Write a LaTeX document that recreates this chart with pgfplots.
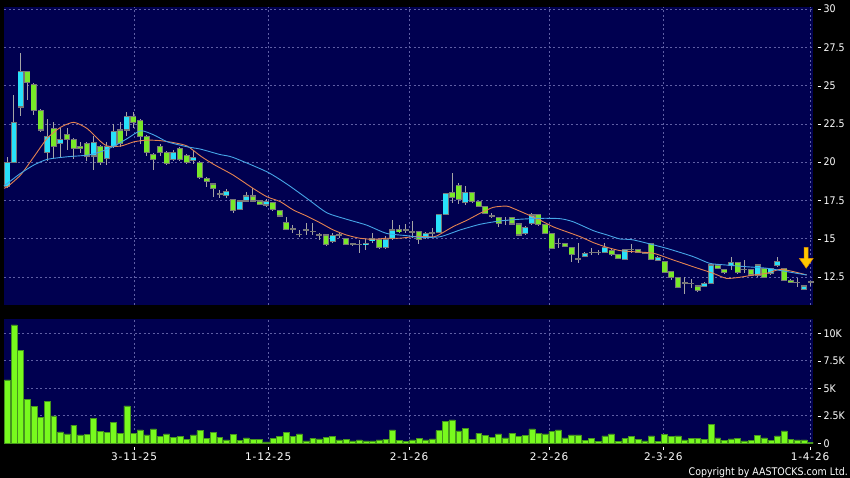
\documentclass[border=0pt]{standalone}
\usepackage{pgfplots}
\pgfplotsset{compat=1.18}
\usepackage{pgfplotstable}
\usepackage{fontspec}
\setmainfont{DejaVu Sans}
\newfontfamily\labelfont[FakeStretch=0.9]{DejaVu Sans}
\newfontfamily\datefont[LetterSpace=8]{DejaVu Sans}

\definecolor{navyc}{RGB}{0,0,80}
\definecolor{gridc}{RGB}{95,95,165}
\definecolor{upc}{RGB}{40,225,250}
\definecolor{downc}{RGB}{120,232,40}
\definecolor{bordc}{RGB}{120,120,120}
\definecolor{wickc}{RGB}{165,165,165}
\definecolor{volc}{RGB}{120,250,30}
\definecolor{voledge}{RGB}{70,150,30}
\definecolor{maone}{RGB}{228,130,80}
\definecolor{matwo}{RGB}{70,165,230}
\definecolor{arrowc}{RGB}{255,200,0}
\definecolor{arrowedge}{RGB}{225,140,0}

% small tick dash in front of the right-hand labels
\newcommand{\tk}{\rule[3pt]{3pt}{0.8pt}\hspace{3pt}}
\newcommand{\dt}[1]{\rule{0.8pt}{2.8pt}\\[-1.5pt]#1}

% daily candles: index, open, high, low, close
\pgfplotstableread{
i o h l c
0 18.4 20.35 18.3 20.0
1 20.0 24.4 19.95 22.6
2 23.6 27.1 23.0 25.9
3 25.9 25.95 24.05 25.2
4 25.1 25.2 23.1 23.4
5 23.4 23.45 22.0 22.1
6 20.6 22.8 20.1 21.7
7 22.2 22.6 20.25 21.0
8 21.2 22.2 20.35 21.5
9 21.8 22.2 20.8 21.45
10 21.5 21.6 20.2 20.9
11 21.05 21.3 20.6 20.9
12 21.2 21.3 20.1 20.4
13 20.4 21.7 19.5 21.3
14 21.0 21.1 19.8 20.0
15 20.25 21.3 19.8 21.0
16 21.0 22.5 20.9 22.0
17 22.1 22.6 21.0 21.2
18 22.1 23.3 21.7 23.0
19 23.0 23.3 22.2 22.6
20 22.7 22.8 21.2 21.7
21 21.7 21.8 20.4 20.6
22 20.5 20.6 19.5 20.2
23 21.0 21.2 20.4 20.6
24 20.6 20.7 19.8 19.9
25 20.2 20.8 20.1 20.6
26 20.9 21.0 20.1 20.2
27 20.45 20.5 19.9 20.0
28 20.1 20.7 19.9 20.3
29 20.0 20.05 18.9 19.0
30 18.95 19.0 18.35 18.72
31 18.57 18.6 17.74 18.29
32 17.92 18.2 17.65 17.92
33 17.85 18.25 17.65 18.07
34 17.53 17.55 16.7 16.87
35 16.92 17.5 16.9 17.46
36 17.46 18.07 17.42 17.79
37 17.79 18.3 17.42 17.46
38 17.46 17.5 17.2 17.26
39 17.2 17.6 17.1 17.42
40 17.35 17.4 16.8 16.92
41 16.87 16.9 16.45 16.48
42 16.04 16.4 15.6 15.61
43 15.65 15.9 15.4 15.65
44 15.3 15.6 15.1 15.3
45 15.57 16.0 15.25 15.57
46 15.5 16.0 15.24 15.5
47 15.24 15.35 14.92 15.24
48 15.24 15.3 14.55 14.65
49 14.8 15.35 14.7 15.18
50 15.24 15.39 15.02 15.24
51 15.02 15.05 14.6 14.65
52 14.6 14.7 14.5 14.66
53 14.63 14.9 14.05 14.63
54 14.6 14.96 14.26 14.7
55 14.87 15.35 14.7 15.02
56 14.96 15.0 14.3 14.44
57 14.44 15.18 14.31 14.96
58 15.02 16.22 14.92 15.57
59 15.6 15.9 15.35 15.45
60 15.57 15.96 15.35 15.57
61 15.46 16.17 15.02 15.46
62 15.46 15.5 14.65 14.92
63 15.09 15.45 15.0 15.35
64 15.39 15.68 15.09 15.39
65 15.39 16.6 15.35 16.55
66 16.61 18.0 16.55 17.96
67 18.0 19.27 17.35 17.7
68 18.5 18.62 17.26 17.53
69 17.35 18.44 17.2 18.0
70 18.0 18.05 17.35 17.41
71 17.41 17.45 17.05 17.09
72 17.09 17.1 16.6 16.66
73 16.48 16.66 16.33 16.48
74 16.37 16.4 15.78 16.0
75 16.2 16.44 15.9 16.2
76 16.37 16.4 15.9 15.96
77 15.96 16.0 15.2 15.24
78 15.31 15.8 15.25 15.74
79 16.0 16.66 15.9 16.55
80 16.59 16.6 15.85 15.9
81 15.9 15.92 15.3 15.35
82 15.31 15.35 14.3 14.37
83 14.7 15.0 14.4 14.7
84 14.7 14.75 14.45 14.52
85 14.44 14.46 13.5 13.94
86 13.7 14.7 13.4 13.7
87 13.83 14.1 13.8 14.05
88 14.1 14.37 13.94 14.1
89 14.1 14.26 13.94 14.1
90 14.09 14.74 14.05 14.41
91 14.24 14.3 13.9 13.94
92 13.94 13.95 13.65 13.7
93 13.66 14.35 13.6 14.3
94 14.3 14.65 14.05 14.3
95 14.3 14.32 14.05 14.1
96 14.05 14.15 14.0 14.1
97 14.7 14.75 13.6 13.66
98 13.61 13.85 13.55 13.79
99 13.5 13.52 12.75 12.78
100 12.85 12.88 12.3 12.48
101 12.48 12.5 11.75 11.83
102 12.13 12.48 11.39 12.13
103 12.09 12.35 11.76 12.09
104 11.91 11.93 11.5 11.6
105 11.91 12.15 11.85 12.09
106 12.09 13.35 12.05 13.28
107 13.28 13.35 13.0 13.07
108 13.0 13.05 12.7 12.78
109 13.24 13.79 12.96 13.46
110 13.46 13.5 12.7 12.78
111 13.0 13.61 12.74 13.0
112 13.0 13.05 12.55 12.63
113 12.57 13.35 12.5 13.28
114 13.07 13.1 12.45 12.48
115 12.7 13.1 12.65 13.07
116 13.22 13.79 13.17 13.5
117 13.07 13.1 12.25 12.3
118 12.3 12.35 12.1 12.13
119 12.15 12.41 11.87 12.15
120 11.7 12.0 11.65 11.91
121 12.2 12.22 11.9 12.2
}\candles

% daily volume, thousands
\pgfplotstableread{
i v
0 5.76
1 10.76
2 8.48
3 4.0
4 3.33
5 2.36
6 3.82
7 2.48
8 1.03
9 0.85
10 1.64
11 0.76
12 0.82
13 2.27
14 1.06
15 0.97
16 1.91
17 0.91
18 3.39
19 0.91
20 1.21
21 0.76
22 1.3
23 0.6
24 0.85
25 0.55
26 0.64
27 0.36
28 0.76
29 1.15
30 0.42
31 1.0
32 0.52
33 0.3
34 0.79
35 0.27
36 0.48
37 0.33
38 0.36
39 0.12
40 0.42
41 0.6
42 1.0
43 0.6
44 0.85
45 0.21
46 0.45
47 0.39
48 0.52
49 0.6
50 0.3
51 0.36
52 0.21
53 0.3
54 0.21
55 0.21
56 0.3
57 0.36
58 1.21
59 0.24
60 0.15
61 0.3
62 0.45
63 0.3
64 0.39
65 1.15
66 1.97
67 2.12
68 1.12
69 1.36
70 0.36
71 0.91
72 0.73
73 0.55
74 0.85
75 0.48
76 0.91
77 0.6
78 0.73
79 1.3
80 0.91
81 0.85
82 1.09
83 1.21
84 0.48
85 0.76
86 0.76
87 0.24
88 0.42
89 0.15
90 0.67
91 0.85
92 0.15
93 0.42
94 0.6
95 0.36
96 0.21
97 0.67
98 0.15
99 0.82
100 0.6
101 0.67
102 0.3
103 0.42
104 0.42
105 0.36
106 1.73
107 0.48
108 0.27
109 0.39
110 0.42
111 0.21
112 0.24
113 0.7
114 0.48
115 0.27
116 0.67
117 1.12
118 0.36
119 0.3
120 0.3
121 0.09
}\volume

\begin{document}
\begin{tikzpicture}
\useasboundingbox (0pt,0pt) rectangle (850pt,478pt);
\fill[black] (0pt,0pt) rectangle (850pt,478pt);

\pgfplotsset{
  panel/.style={
    anchor=south west, scale only axis, width=809pt,
    xmin=-0.5, xmax=121.35,
    axis background/.style={fill=navyc},
    axis line style={draw=none},
    major tick length=0pt,
    xmajorgrids, ymajorgrids,
    grid style={gridc, line width=0.6pt, dash pattern=on 2pt off 2.5pt},
    xtick={19.1,39.3,60.5,81.6,98.8,120.9},
    yticklabel pos=right,
    tick label style={font=\labelfont\fontsize{10.5}{12}\selectfont, text=white},
    yticklabel style={anchor=west, inner sep=0pt, xshift=4.5pt},
  },
  body/.style={draw=none, mark=none, forget plot,
    error bars/y dir=both, error bars/y explicit, error bars/error mark=none},
}

% price panel
\begin{axis}[panel, at={(4pt,173pt)}, height=297.5pt,
  ymin=10.67, ymax=30.1, clip=false,
  ytick={12.5,15,17.5,20,22.5,25,27.5,30},
  yticklabels={{\tk12.5},{\tk15},{\tk17.5},{\tk20},{\tk22.5},{\tk25},{\tk27.5},{\tk30}},
  xticklabels={\relax,\relax,\relax,\relax,\relax,\relax}]

% wicks
\addplot[body, error bars/error bar style={draw=wickc, line width=1pt}]
  table[x=i, y expr={(\thisrow{h}+\thisrow{l})/2},
        y error expr={(\thisrow{h}-\thisrow{l})/2}] {\candles};
% body outline (also the dash of a doji)
\addplot[body, error bars/error bar style={draw=bordc, line width=6pt}]
  table[x=i, y expr={(\thisrow{o}+\thisrow{c})/2},
        y error expr={abs(\thisrow{c}-\thisrow{o})/2+0.035}] {\candles};
% rising days
\addplot[body, restrict expr to domain={\thisrow{c}-\thisrow{o}}{0.001:100},
  error bars/error bar style={draw=upc, line width=4.8pt}]
  table[x=i, y expr={(\thisrow{o}+\thisrow{c})/2},
        y error expr={max(abs(\thisrow{c}-\thisrow{o})/2-0.035,0)}] {\candles};
% falling days
\addplot[body, restrict expr to domain={\thisrow{o}-\thisrow{c}}{0.001:100},
  error bars/error bar style={draw=downc, line width=4.8pt}]
  table[x=i, y expr={(\thisrow{o}+\thisrow{c})/2},
        y error expr={max(abs(\thisrow{c}-\thisrow{o})/2-0.035,0)}] {\candles};

% short moving average
\addplot[maone, line width=0.9pt, mark=none, smooth, tension=0.4] coordinates {
(-0.5,18.3) (0,18.39) (2,19.16) (4,20.35) (6,21.55) (8,22.27) (10,22.6)
(12,22.2) (14.1,21.33) (15.1,21.05) (17.1,21.05) (19.1,21.33) (21.1,21.44)
(23.1,21.4) (25.1,21.27) (27.1,21.05) (29.1,20.4) (31.1,19.85) (34,19.16)
(37,18.29) (39.1,17.74) (41.1,17.42) (43.1,16.87) (45.1,16.48) (47.1,16.04)
(49.1,15.57) (51.1,15.24) (53.1,15.03) (55.1,14.96) (57.1,15.03) (59.1,15.03)
(61.6,15.15) (64.2,15.12) (65.2,15.3) (67.2,15.8) (69.2,16.2) (71.2,16.66)
(73.2,17.05) (75.2,17.13) (76.2,16.98) (78.2,16.61) (80.2,16.22) (82.2,15.78)
(84.2,15.46) (86.3,15.13) (88.3,14.74) (90.3,14.44) (92.3,14.22) (94.3,14.15)
(97.3,14.05) (100.3,13.61) (103.3,13.17) (106.3,12.74) (108.3,12.41)
(110.3,12.48) (112.4,12.63) (114.4,12.74) (116.4,13.0) (118.4,12.85) (120.4,12.63)
};
% long moving average
\addplot[matwo, line width=0.9pt, mark=none, smooth, tension=0.4] coordinates {
(-0.5,18.45) (0,18.61) (2,19.27) (4,19.81) (6,20.18) (9,20.35) (12.1,20.46)
(14.1,20.68) (16.1,21.05) (18.1,21.55) (20.1,22.05) (22.1,21.77) (24.1,21.33)
(27.1,21.0) (29.1,20.85) (32,20.5) (34,20.31) (39.1,19.37) (42.1,18.57)
(45.1,17.64) (48.1,16.7) (51.1,16.27) (54.1,15.89) (57.1,15.35) (60.1,15.2)
(62.2,15.09) (65.2,15.13) (68.2,15.57) (71.2,15.94) (74.2,16.16) (77.2,16.27)
(80.2,16.33) (83.2,16.31) (85.2,16.11) (88.3,15.52) (90.3,15.25) (92.3,14.98)
(94.3,14.92) (99.3,14.37) (103.3,13.83) (105.8,13.39) (108.3,13.28)
(111.3,13.17) (114.4,13.07) (117.4,12.85) (120.4,12.63)
};

% yellow arrow over the last day
\filldraw[fill=arrowc, draw=arrowedge, line width=0.5pt]
  (axis cs:120.03,14.44) -- (axis cs:120.63,14.44) -- (axis cs:120.63,13.72)
  -- (axis cs:121.38,13.72) -- (axis cs:120.33,13.07) -- (axis cs:119.28,13.72)
  -- (axis cs:120.03,13.72) -- cycle;
\end{axis}

% volume panel
\begin{axis}[panel, at={(4pt,34.3pt)}, height=124.7pt,
  ymin=-0.04, ymax=11.3,
  ytick={0,2.5,5,7.5,10},
  yticklabels={{\tk0},{\tk2.5K},{\tk5K},{\tk7.5K},{\tk10K}},
  xticklabels={{\dt{3-11-25}},{\dt{1-12-25}},{\dt{2-1-26}},{\dt{2-2-26}},{\dt{2-3-26}},{\dt{1-4-26}}},
  xticklabel style={anchor=north, inner sep=0pt, yshift=-3pt, align=center,
    font=\datefont\fontsize{10.5}{12}\selectfont}]
\addplot[ybar, bar width=0.88, fill=volc, draw=voledge, line width=0.5pt]
  table[x=i, y=v] {\volume};
\end{axis}

\node[anchor=base east, inner sep=0pt, text=white,
  font=\labelfont\fontsize{10.5}{12}\selectfont] at (848pt,2.5pt)
  {Copyright by AASTOCKS.com Ltd.};
\end{tikzpicture}
\end{document}
